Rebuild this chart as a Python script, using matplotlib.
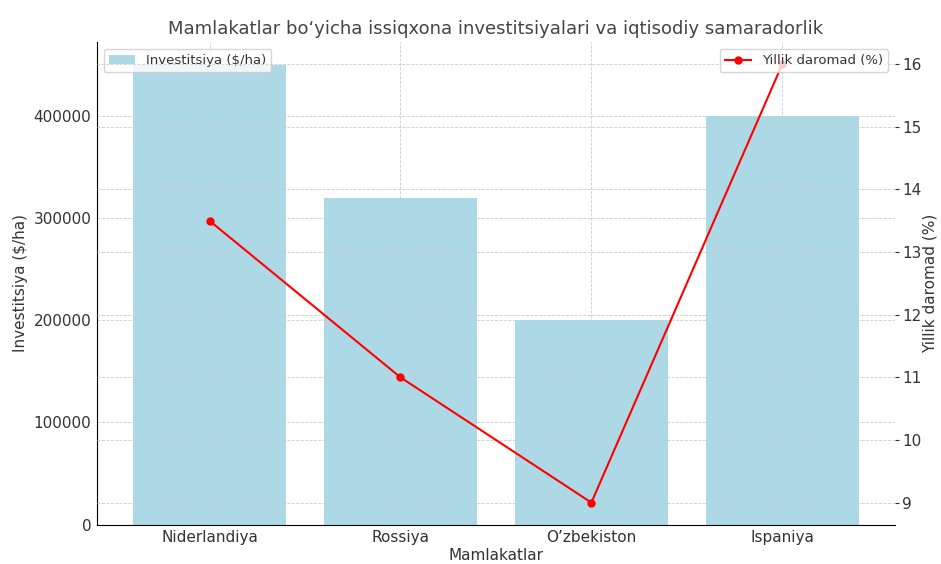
import matplotlib
matplotlib.use("Agg")
import matplotlib.pyplot as plt

# Data
countries = ["Niderlandiya", "Rossiya", "O\u2019zbekiston", "Ispaniya"]
investment = [450000, 320000, 200000, 400000]
annual_return = [13.5, 11, 9, 16]

txt = "#333333"
plt.rcParams["text.color"] = txt
plt.rcParams["axes.labelcolor"] = txt
plt.rcParams["xtick.color"] = txt
plt.rcParams["ytick.color"] = txt

fig, ax1 = plt.subplots(figsize=(9.41, 5.64), dpi=100)

ax1.bar(countries, investment, color="lightblue", width=0.8, label="Investitsiya ($/ha)")
ax1.set_xlabel("Mamlakatlar", fontsize=11, labelpad=2)
ax1.set_ylabel("Investitsiya ($/ha)", fontsize=11)
ax1.tick_params(axis="both", labelsize=11, length=0, pad=4)
ax1.grid(True, linestyle="--", color="#cccccc", linewidth=0.6)
ax1.set_axisbelow(True)
ax1.spines["top"].set_visible(False)
ax1.spines["right"].set_visible(False)
ax1.set_title("Mamlakatlar bo\u2018yicha issiqxona investitsiyalari va iqtisodiy samaradorlik",
              fontsize=13, color="#444444")

ax2 = ax1.twinx()
ax2.plot(countries, annual_return, color="red", marker="o", markersize=5,
         linewidth=1.5, label="Yillik daromad (%)")
ax2.set_ylabel("Yillik daromad (%)", fontsize=11, labelpad=1)
ax2.tick_params(axis="y", labelsize=11, length=3, pad=2)
ax2.grid(True, axis="y", linestyle="--", color="#cccccc", linewidth=0.6)
for s in ["top", "right", "left", "bottom"]:
    ax2.spines[s].set_visible(False)

ax1.legend(loc="upper left", fontsize=9.5)
ax2.legend(loc="upper right", fontsize=9.5)

fig.subplots_adjust(left=0.103, right=0.951, top=0.925, bottom=0.07)
fig.savefig("out.png")
